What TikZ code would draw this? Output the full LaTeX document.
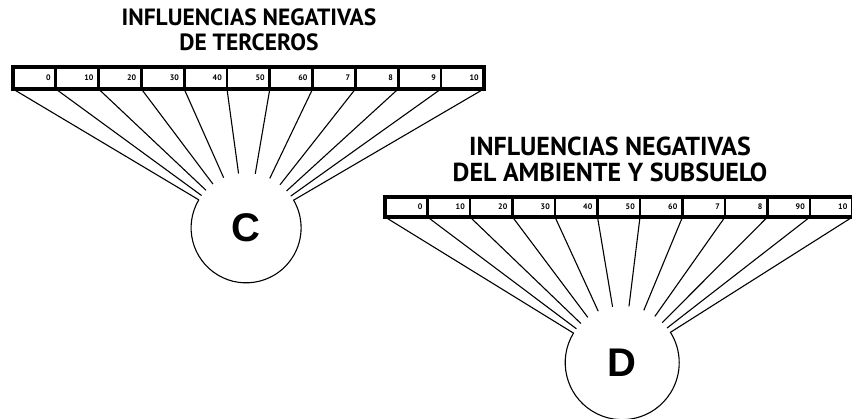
\documentclass[tikz,border=0pt]{standalone}
\usepackage{fontspec}
\setmainfont{PT Sans}
\newfontfamily\letterfont{Liberation Sans}
\usetikzlibrary{calc}
\begin{document}
\begin{tikzpicture}[x=1pt,y=1pt,
  titleA/.style={font=\bfseries\fontsize{23.5}{25}\selectfont, align=center, inner sep=0},
  titleB/.style={font=\bfseries\fontsize{26}{26}\selectfont, align=center, inner sep=0},
  barframe/.style={line width=3.4pt},
  divider/.style={line width=2.8pt},
  num/.style={font=\bfseries\fontsize{8}{8}\selectfont, anchor=east, inner sep=1pt},
  ray/.style={line width=1.1pt},
  rim/.style={line width=1.1pt},
  hub/.style={circle, inner sep=0, outer sep=0, font=\letterfont\bfseries\fontsize{40}{40}\selectfont}]
\useasboundingbox (0,0) rectangle (852,418);
% titles
\node[titleA] (titleC) at (249,388) {INFLUENCIAS NEGATIVAS\\DE TERCEROS};
\node[titleB] (titleD) at (610,259) {INFLUENCIAS NEGATIVAS\\DEL AMBIENTE Y SUBSUELO};
% hubs
\node[hub, minimum size=110pt] (C) at (246,190) {C};
\node[hub, minimum size=114pt] (D) at (622,55) {D};
% top bar
\foreach \i in {0,...,11} \coordinate (t\i) at ({13+42.8*\i},329);
\foreach \i in {0,...,11} \draw[ray] (t\i) -- (C);
\fill[white] (t0) rectangle ($(t11)+(0,22)$);
\draw[barframe] (t0) rectangle ($(t11)+(0,22)$);
\foreach \i in {1,...,10} \draw[divider] (t\i) -- ++(0,22);
\foreach \n [count=\i] in {0,10,20,30,40,50,60,7,8,9,10}
  \node[num] (tn\i) at ($(t\i)+(-4,11)$) {\n};
\draw[rim] (C.149.2) arc[start angle=149.2, end angle=390.3, radius=55pt];
% bottom bar
\foreach \i in {0,...,11} \coordinate (b\i) at ({385+42.5*\i},201);
\foreach \i in {0,...,11} \draw[ray] (b\i) -- (D);
\fill[white] (b0) rectangle ($(b11)+(0,20)$);
\draw[barframe] (b0) rectangle ($(b11)+(0,20)$);
\foreach \i in {1,...,10} \draw[divider] (b\i) -- ++(0,20);
\foreach \n [count=\i] in {0,10,20,30,40,50,60,7,8,90,10}
  \node[num] (bn\i) at ($(b\i)+(-4,10)$) {\n};
\draw[rim] (D.148.4) arc[start angle=148.4, end angle=392.3, radius=57pt];
\end{tikzpicture}
\end{document}
